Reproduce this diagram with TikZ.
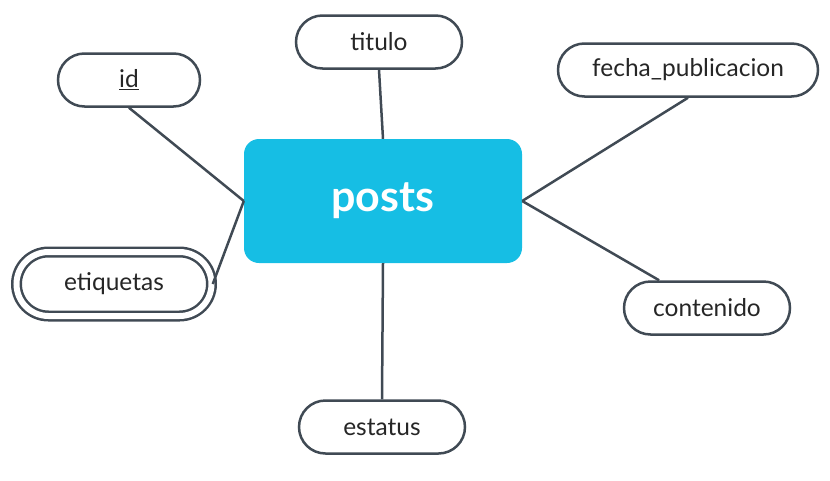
\documentclass[tikz,border=0pt]{standalone}
\usepackage{fontspec}
\setmainfont{Lato}
\usepackage{xcolor}
\usetikzlibrary{shapes.misc, positioning}
\definecolor{postsblue}{RGB}{22,190,228}
\definecolor{edgeslate}{RGB}{64,74,84}

\tikzset{
    attr/.style={rounded rectangle, draw=edgeslate, line width=2.5pt, fill=white,
        minimum height=53pt, inner xsep=14pt, font=\fontsize{24.5}{28}\selectfont, text=black!85},
    link/.style={draw=edgeslate, line width=2.5pt}
}

\begin{document}
\begin{tikzpicture}[x=1pt, y=-1pt]
            \useasboundingbox (0, 0) rectangle (830, 480);

            \node [rectangle, rounded corners=15pt, fill=postsblue, minimum width=278pt, minimum height=124pt,
                   font=\fontsize{43}{50}\selectfont\bfseries, text=white] (posts) at (383, 201) { posts };

            \node [attr, minimum width=194pt] (titulo)    at (379, 42)  { titulo };
            \node [attr, minimum width=170pt] (id)        at (129, 80)  { \underline{id} };
            \node [attr, minimum width=288pt] (fecha)     at (688, 70)  { fecha\_publicacion };
            \node [attr, minimum width=223pt, minimum height=64pt, double=white, double distance=6pt] (etiquetas) at (114, 284) { etiquetas };
            \node [attr, minimum width=194pt] (contenido) at (707, 308) { contenido };
            \node [attr, minimum width=194pt] (estatus)   at (382, 427) { estatus };

            \draw [link] (titulo.south) -- (posts.north);
            \draw [link] (id.south) -- (posts.west);
            \draw [link] (etiquetas.east) -- (posts.west);
            \draw [link] (fecha.south) -- (posts.east);
            \draw [link] (posts.east) -- (contenido);
            \draw [link] (posts.south) -- (estatus.north);

        \end{tikzpicture}
\end{document}
